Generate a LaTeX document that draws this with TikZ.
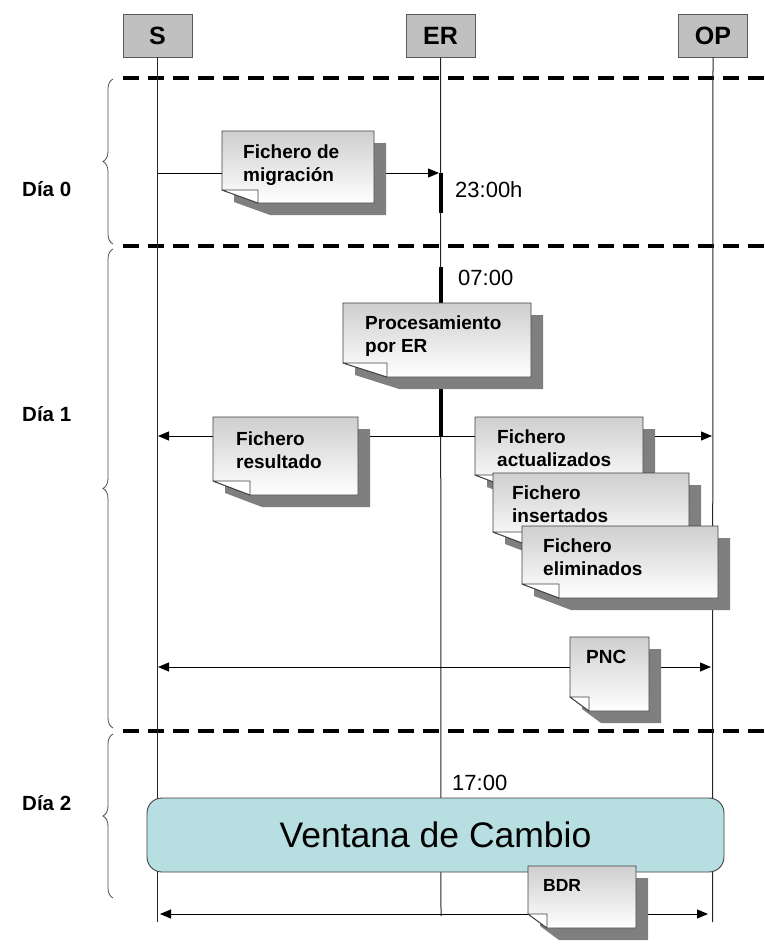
\documentclass[tikz,border=0pt]{standalone}
\usepackage{fontspec}
\setmainfont{Liberation Sans}
\usetikzlibrary{arrows.meta,decorations.pathreplacing,shadings}
\definecolor{hdrgray}{HTML}{C0C0C0}
\definecolor{vcfill}{HTML}{B7DEE1}
\definecolor{shadowgray}{HTML}{7F7F7F}
\definecolor{edgegray}{HTML}{404040}
% note with folded bottom-left corner and drop shadow: x1,y1,x2,y2,fold dx,fold dy
\newcommand{\drawnote}[6]{%
  \fill[shadowgray] ({#1+12},{#2+12}) -- ({#3+12},{#2+12}) -- ({#3+12},{#4+12}) -- ({#1+#5+12},{#4+12}) -- ({#1+12},{#4-#6+12}) -- cycle;
  \path[draw=edgegray, line width=0.9pt, top color=gray!38, bottom color=white]
     (#1,#2) -- (#3,#2) -- (#3,#4) -- ({#1+#5},#4) -- (#1,{#4-#6}) -- cycle;
  \filldraw[fill=white, draw=edgegray, line width=0.9pt, line join=round]
     (#1,{#4-#6}) -- ({#1+#5},{#4-#6}) -- ({#1+#5},#4) -- cycle;
}
\begin{document}
\begin{tikzpicture}[x=1pt,y=-1pt,
  lifeline/.style={draw=black!85, line width=1pt},
  actbar/.style={draw=black, line width=4pt},
  msg/.style={draw=black, line width=1pt, -{Triangle[length=11pt,width=9pt]}},
  msgboth/.style={draw=black, line width=1pt, {Triangle[length=11pt,width=9pt]}-{Triangle[length=11pt,width=9pt]}},
  daysep/.style={draw=black, line width=3.5pt, dash pattern=on 16pt off 9pt},
  hdr/.style={draw=black!65, fill=hdrgray, line width=0.8pt, minimum width=69pt, minimum height=43pt, inner sep=0pt, font=\fontsize{25}{29}\selectfont\bfseries},
  notetext/.style={anchor=north west, inner sep=0pt, align=left, font=\fontsize{19}{23}\selectfont\bfseries},
  timetext/.style={anchor=west, inner sep=0pt, font=\fontsize{22}{26}\selectfont},
  daytext/.style={anchor=west, inner sep=0pt, font=\fontsize{20.5}{24}\selectfont\bfseries},
  daybrace/.style={decorate, decoration={brace, amplitude=10pt}, draw=black!70, line width=0.8pt},
  ventana/.style={draw=edgegray, fill=vcfill, line width=0.9pt, rounded corners=15pt, minimum width=577pt, minimum height=74pt, inner sep=0pt, font=\fontsize{35.5}{40}\selectfont}
]
\useasboundingbox (0,0) rectangle (764,948);

% headers
\node[hdr] (S) at (157.5,35.5) {S};
\node[hdr] (ER) at (440.5,35.5) {ER};
\node[hdr] (OP) at (713,35.5) {OP};

% lifeline end points
\coordinate (Send) at (157.5,922);
\coordinate (ERend) at (441,916);
\coordinate (OPend) at (712.5,922);

% day separators
\coordinate (d0a) at (123,78);  \coordinate (d0b) at (764,78);
\coordinate (d1a) at (123,246); \coordinate (d1b) at (764,246);
\coordinate (d2a) at (123,731); \coordinate (d2b) at (764,731);
\draw[daysep] (d0a) -- (d0b);
\draw[daysep] (d1a) -- (d1b);
\draw[daysep] (d2a) -- (d2b);

% braces and day labels
\coordinate (b0t) at (113,79);  \coordinate (b0b) at (113,244);
\coordinate (b1t) at (113,249); \coordinate (b1b) at (113,728);
\coordinate (b2t) at (113,734); \coordinate (b2b) at (113,898);
\draw[daybrace] (b0b) -- (b0t);
\draw[daybrace] (b1b) -- (b1t);
\draw[daybrace] (b2b) -- (b2t);
\node[daytext] (dia0) at (22,189) {Día 0};
\node[daytext] (dia1) at (22,414) {Día 1};
\node[daytext] (dia2) at (22,803) {Día 2};

% lifelines
\draw[lifeline] (S.south) -- (Send);
\draw[lifeline] (ER.south) -- (ERend);
\draw[lifeline] (OP.south) -- (OPend);

% activation bars
\coordinate (a1t) at (441,173); \coordinate (a1b) at (441,213);
\coordinate (a2t) at (441,267); \coordinate (a2b) at (441,437);
\draw[actbar] (a1t) -- (a1b);
\draw[actbar] (a2t) -- (a2b);

% messages
\coordinate (m1s) at (157.5,173); \coordinate (m1e) at (439,173);
\draw[msg] (m1s) -- (m1e);
\coordinate (m2s) at (441,436); \coordinate (m2e) at (158,436);
\draw[msg] (m2s) -- (m2e);
\coordinate (m3e) at (712,436);
\draw[msg] (m2s) -- (m3e);
\coordinate (m4s) at (158,667); \coordinate (m4e) at (711,667);
\draw[msgboth] (m4s) -- (m4e);
\coordinate (m5s) at (160,914); \coordinate (m5e) at (708,914);
\draw[msgboth] (m5s) -- (m5e);

% notes
\drawnote{222}{131}{374}{203}{36}{13}
\node[notetext] (nmig) at (243,145) {Fichero de\\migración};
\drawnote{343}{303}{531}{377}{44}{14}
\node[notetext] (nproc) at (365,316) {Procesamiento\\por ER};
\drawnote{213}{417}{358}{495}{37}{14}
\node[notetext] (nres) at (236,432) {Fichero\\resultado};
\drawnote{475}{417}{643}{489}{37}{14}
\node[notetext] (nact) at (497,430) {Fichero\\actualizados};
\drawnote{493}{473}{689}{546}{37}{14}
\node[notetext] (nins) at (512,486) {Fichero\\insertados};
\drawnote{522}{526}{718}{598}{37}{14}
\node[notetext] (nelim) at (543,539) {Fichero\\eliminados};
\drawnote{570}{637}{649}{711}{19}{14}
\node[notetext] (npnc) at (586,650) {PNC};

% ventana de cambio
\node[ventana] (vc) at (435.5,835) {Ventana de Cambio};
\drawnote{528}{866}{636}{928}{19}{14}
\node[notetext, font=\fontsize{17.5}{20}\selectfont\bfseries] (nbdr) at (543,879) {BDR};

% times
\node[timetext] (t2300) at (455,190) {23:00h};
\node[timetext] (t0700) at (458,278) {07:00};
\node[timetext] (t1700) at (452,783) {17:00};
\end{tikzpicture}
\end{document}
